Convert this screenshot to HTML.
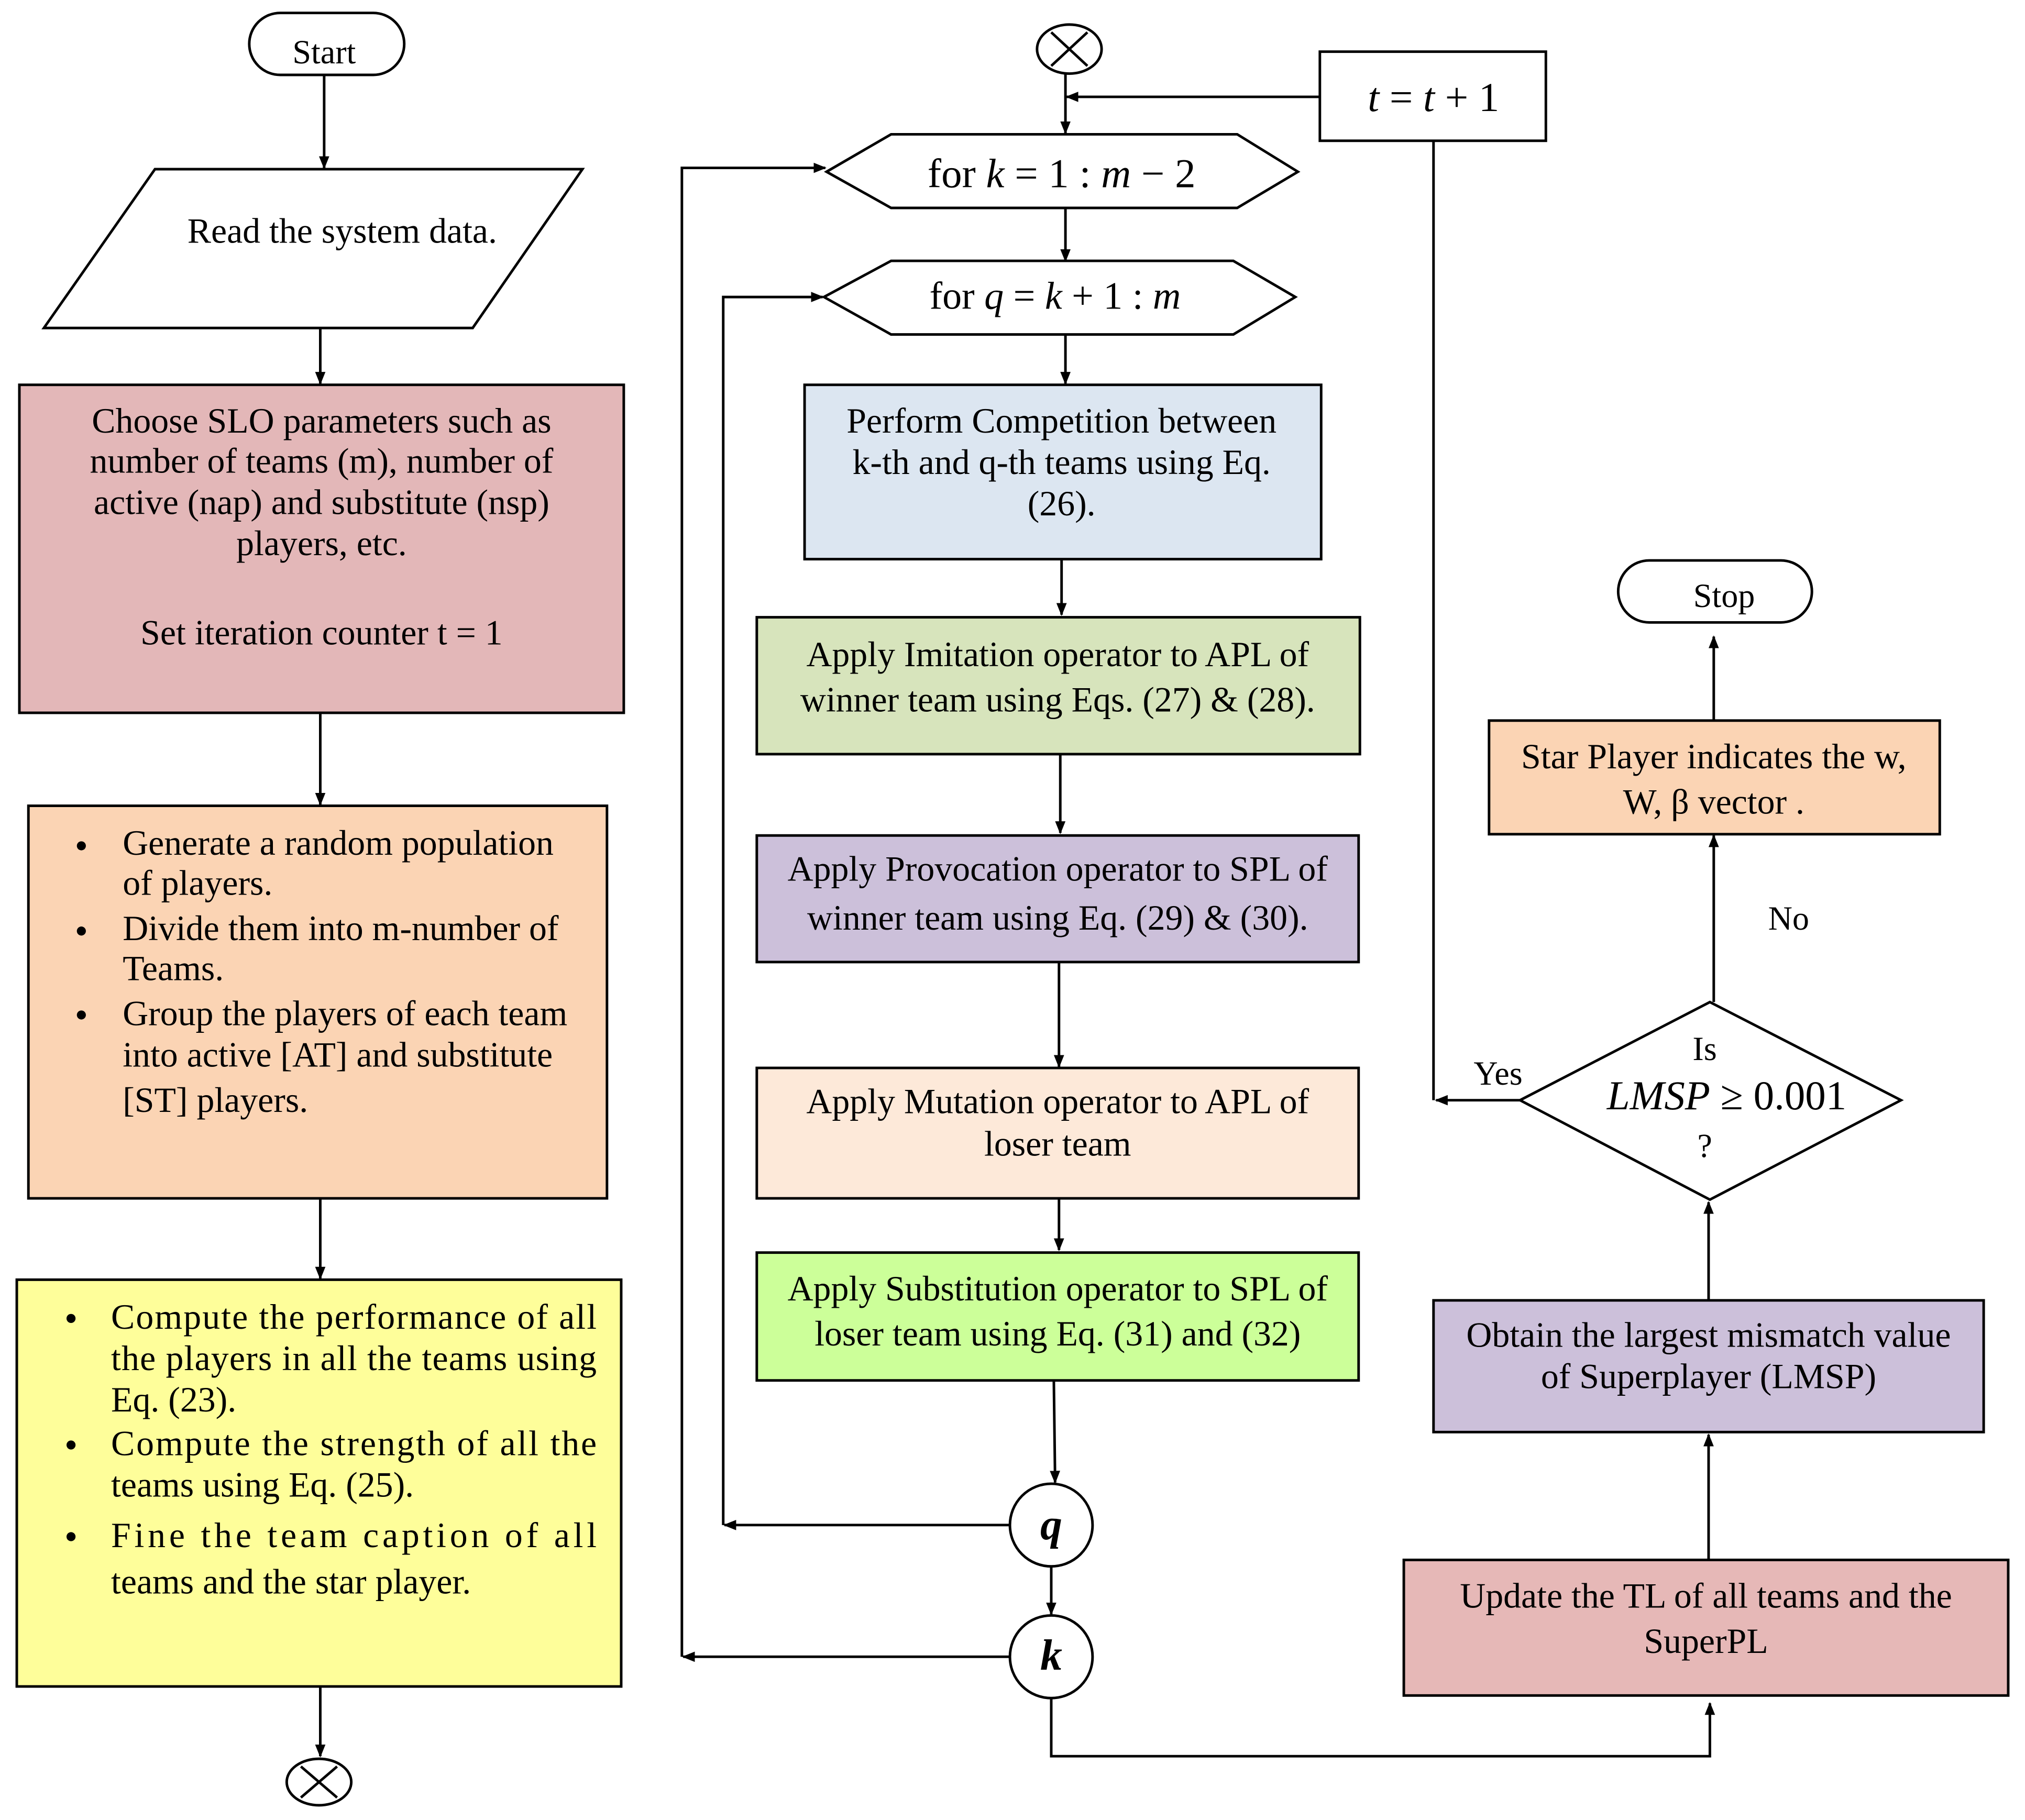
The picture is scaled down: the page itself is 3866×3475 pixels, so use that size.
<!DOCTYPE html>
<html><head><meta charset="utf-8"><style>html,body{margin:0;padding:0;background:#fff}svg{display:block}</style></head>
<body>
<svg xmlns="http://www.w3.org/2000/svg" width="3866" height="3475" viewBox="0 0 1568 1409.4" font-family="Liberation Serif, serif" font-size="27.5">
<defs><marker id="a" markerWidth="10" markerHeight="8" refX="9" refY="4" orient="auto" markerUnits="userSpaceOnUse"><path d="M0,0 L10,4 L0,8 Z" fill="#000"/></marker></defs>
<rect width="1568" height="1410" fill="#fff"/>
<g stroke="#000" stroke-width="2" fill="none">
<rect x="193" y="10" width="120" height="48" rx="24"/>
<line x1="251" y1="58" x2="251" y2="130" marker-end="url(#a)"/>
<polygon points="120,131 451,131 366,254 34,254"/>
<line x1="248" y1="254" x2="248" y2="297" marker-end="url(#a)"/>
<rect x="15" y="298" width="468" height="254" fill="#e3b7b8"/>
<line x1="248" y1="552" x2="248" y2="623" marker-end="url(#a)"/>
<rect x="22" y="624" width="448" height="304" fill="#fbd4b4"/>
<line x1="248" y1="928" x2="248" y2="990" marker-end="url(#a)"/>
<rect x="13" y="991" width="468" height="315" fill="#fefe9a"/>
<line x1="248" y1="1306" x2="248" y2="1360" marker-end="url(#a)"/>
<ellipse cx="247" cy="1380" rx="25" ry="18"/>
<line x1="233" y1="1368" x2="261" y2="1392"/><line x1="261" y1="1368" x2="233" y2="1392"/>
<ellipse cx="828" cy="38" rx="25" ry="19"/>
<line x1="814" y1="25" x2="842" y2="51"/><line x1="842" y1="25" x2="814" y2="51"/>
<line x1="825" y1="57" x2="825" y2="103" marker-end="url(#a)"/>
<rect x="1022" y="40" width="175" height="69"/>
<line x1="1022" y1="75" x2="826" y2="75" marker-end="url(#a)"/>
<polyline points="1110,109 1110,852"/>
<line x1="1177" y1="852" x2="1112" y2="852" marker-end="url(#a)"/>
<polygon points="640,133 690,104 958,104 1005,133 958,161 690,161"/>
<line x1="825" y1="161" x2="825" y2="202" marker-end="url(#a)"/>
<polygon points="638,230 690,202 955,202 1003,230 955,259 690,259"/>
<line x1="825" y1="259" x2="825" y2="297" marker-end="url(#a)"/>
<rect x="623" y="298" width="400" height="135" fill="#dce6f1"/>
<line x1="822" y1="433" x2="822" y2="476" marker-end="url(#a)"/>
<rect x="586" y="478" width="467" height="106" fill="#d7e4bc"/>
<line x1="821" y1="584" x2="821" y2="645" marker-end="url(#a)"/>
<rect x="586" y="647" width="466" height="98" fill="#ccc0da"/>
<line x1="820" y1="745" x2="820" y2="826" marker-end="url(#a)"/>
<rect x="586" y="827" width="466" height="101" fill="#fde9d9"/>
<line x1="820" y1="928" x2="820" y2="968" marker-end="url(#a)"/>
<rect x="586" y="970" width="466" height="99" fill="#ccff99"/>
<line x1="816" y1="1069" x2="817" y2="1148" marker-end="url(#a)"/>
<circle cx="814" cy="1181" r="32"/>
<line x1="782" y1="1181" x2="561" y2="1181" marker-end="url(#a)"/>
<polyline points="560,1181 560,230 637,230" marker-end="url(#a)"/>
<line x1="814" y1="1213" x2="814" y2="1250" marker-end="url(#a)"/>
<circle cx="814" cy="1283" r="32"/>
<line x1="782" y1="1283" x2="529" y2="1283" marker-end="url(#a)"/>
<polyline points="528,1283 528,130 639,130" marker-end="url(#a)"/>
<polyline points="814,1315 814,1360 1324,1360 1324,1319" marker-end="url(#a)"/>
<rect x="1087" y="1208" width="468" height="105" fill="#e6b8b7"/>
<line x1="1323" y1="1208" x2="1323" y2="1111" marker-end="url(#a)"/>
<rect x="1110" y="1007" width="426" height="102" fill="#ccc0da"/>
<line x1="1323" y1="1007" x2="1323" y2="931" marker-end="url(#a)"/>
<polygon points="1324,776 1472,852 1324,929 1177,852"/>
<line x1="1327" y1="776" x2="1327" y2="647" marker-end="url(#a)"/>
<rect x="1153" y="558" width="349" height="88" fill="#fbd4b4"/>
<line x1="1327" y1="558" x2="1327" y2="493" marker-end="url(#a)"/>
<rect x="1253" y="434" width="150" height="48" rx="24"/>
</g>
<g fill="#000" text-anchor="middle">
<text x="251" y="49" font-size="26">Start</text>
<text x="265" y="188">Read the system data.</text>
<text x="249" y="335">Choose SLO parameters such as</text>
<text x="249" y="366">number of teams (m), number of</text>
<text x="249" y="398">active (nap) and substitute (nsp)</text>
<text x="249" y="430">players, etc.</text>
<text x="249" y="499">Set iteration counter t = 1</text>
<text x="822" y="335">Perform Competition between</text>
<text x="822" y="367">k-th and q-th teams using Eq.</text>
<text x="822" y="399">(26).</text>
<text x="819" y="516">Apply Imitation operator to APL of</text>
<text x="819" y="551">winner team using Eqs. (27) &amp; (28).</text>
<text x="819" y="682">Apply Provocation operator to SPL of</text>
<text x="819" y="720">winner team using Eq. (29) &amp; (30).</text>
<text x="819" y="862">Apply Mutation operator to APL of</text>
<text x="819" y="895">loser team</text>
<text x="819" y="1007">Apply Substitution operator to SPL of</text>
<text x="819" y="1042">loser team using Eq. (31) and (32)</text>
<text x="1321" y="1245">Update the TL of all teams and the</text>
<text x="1321" y="1280">SuperPL</text>
<text x="1323" y="1043">Obtain the largest mismatch value</text>
<text x="1323" y="1075">of Superplayer (LMSP)</text>
<text x="1327" y="595">Star Player indicates the w,</text>
<text x="1327" y="630">W, β vector   .</text>
<text x="1335" y="470" font-size="26">Stop</text>
<text x="1320" y="821" font-size="26">Is</text>
<text x="1337" y="859" font-size="32"><tspan font-style="italic">LMSP</tspan> ≥ 0.001</text>
<text x="1320" y="896" font-size="26">?</text>
<text x="1160" y="840" font-size="26">Yes</text>
<text x="1385" y="720" font-size="26">No</text>
<text x="1110" y="86" font-size="32"><tspan font-style="italic">t</tspan> = <tspan font-style="italic">t</tspan> + 1</text>
<text x="822" y="145" font-size="32">for  <tspan font-style="italic">k</tspan> = 1 : <tspan font-style="italic">m</tspan> − 2</text>
<text x="817" y="239" font-size="30">for  <tspan font-style="italic">q</tspan> = <tspan font-style="italic">k</tspan> + 1 : <tspan font-style="italic">m</tspan></text>
<text x="814" y="1192" font-size="34" font-weight="bold" font-style="italic">q</text>
<text x="814" y="1293" font-size="34" font-weight="bold" font-style="italic">k</text>
</g>
<g fill="#000">
<circle cx="63" cy="655" r="3.5"/><circle cx="63" cy="721" r="3.5"/><circle cx="63" cy="786" r="3.5"/>
<text x="95" y="662">Generate a random population</text>
<text x="95" y="693">of players.</text>
<text x="95" y="728">Divide them into m-number of</text>
<text x="95" y="759">Teams.</text>
<text x="95" y="794">Group the players of each team</text>
<text x="95" y="826">into active [AT] and substitute</text>
<text x="95" y="861">[ST] players.</text>
<circle cx="55" cy="1021" r="3.5"/><circle cx="55" cy="1119" r="3.5"/><circle cx="55" cy="1190" r="3.5"/>
<text x="86" y="1029" textLength="376" lengthAdjust="spacing">Compute the performance of all</text>
<text x="86" y="1061" textLength="376" lengthAdjust="spacing">the players in all the teams using</text>
<text x="86" y="1093">Eq. (23).</text>
<text x="86" y="1127" textLength="376" lengthAdjust="spacing">Compute the strength of all the</text>
<text x="86" y="1159">teams using Eq. (25).</text>
<text x="86" y="1198" textLength="376" lengthAdjust="spacing">Fine the team caption of  all</text>
<text x="86" y="1234">teams and the star player.</text>
</g>
</svg>
</body></html>
